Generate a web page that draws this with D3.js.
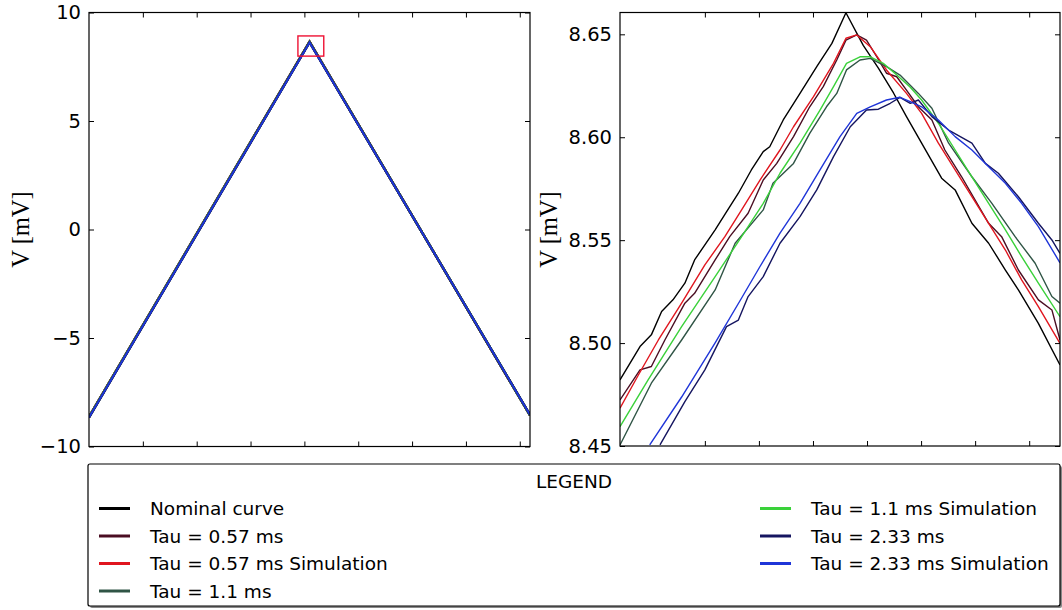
<!DOCTYPE html>
<html><head><meta charset="utf-8">
<script src="https://cdn.jsdelivr.net/npm/d3@7"></script>
<style>body{margin:0;background:#fff} svg{display:block}</style>
</head><body><svg id="chart" width="1062" height="610"></svg>
<script>
// ---------------- DATA ----------------
const seriesNames = ["Nominal curve","Tau = 0.57 ms","Tau = 0.57 ms Simulation","Tau = 1.1 ms","Tau = 1.1 ms Simulation","Tau = 2.33 ms","Tau = 2.33 ms Simulation"];
const legendTitle = "LEGEND";
const yLabel = "V [mV]";

// left (full) panel
const leftTimes = [0, 4.096, 8.19];
const leftNominal   = [-8.63, 8.66, -8.57];
const leftTau057    = [-8.64, 8.65, -8.56];
const leftTau057Sim = [-8.64, 8.65, -8.56];
const leftTau11     = [-8.65, 8.64, -8.55];
const leftTau11Sim  = [-8.65, 8.64, -8.55];
const leftTau233    = [-8.67, 8.62, -8.54];
const leftTau233Sim = [-8.67, 8.62, -8.54];
const leftXTicks = [1,2,3,4,5,6,7,8];
const leftYTicks = [-10,-5,0,5,10];
const zoomBoxX = [3.88, 4.36];
const zoomBoxY = [7.99, 8.92];

// right (zoomed) panel
const rightXTicks = [4.07,4.08,4.09,4.10,4.11,4.12,4.13];
const rightYTicks = [8.45,8.50,8.55,8.60,8.65];
const rightNominal = [[4.0543,8.4821],[4.0580,8.4983],[4.0601,8.5040],[4.0620,8.5153],[4.0641,8.5210],[4.0663,8.5291],[4.0681,8.5404],[4.0719,8.5550],[4.0740,8.5638],[4.0762,8.5728],[4.0786,8.5841],[4.0808,8.5930],[4.0820,8.5954],[4.0845,8.6084],[4.0876,8.6213],[4.0907,8.6343],[4.0935,8.6456],[4.0961,8.6605],[4.0993,8.6446],[4.1021,8.6336],[4.1049,8.6215],[4.1073,8.6100],[4.1138,8.5801],[4.1163,8.5744],[4.1194,8.5582],[4.1225,8.5485],[4.1256,8.5355],[4.1280,8.5258],[4.1317,8.5096],[4.1357,8.4894]];
const rightTau057 = [[4.0543,8.4724],[4.0580,8.4870],[4.0601,8.4886],[4.0626,8.5015],[4.0663,8.5194],[4.0681,8.5242],[4.0719,8.5404],[4.0746,8.5517],[4.0780,8.5631],[4.0808,8.5792],[4.0833,8.5873],[4.0864,8.6003],[4.0894,8.6148],[4.0919,8.6246],[4.0944,8.6375],[4.0961,8.6472],[4.0981,8.6497],[4.0999,8.6472],[4.1018,8.6391],[4.1036,8.6311],[4.1055,8.6294],[4.1073,8.6229],[4.1095,8.6148],[4.1120,8.6084],[4.1144,8.5938],[4.1175,8.5808],[4.1225,8.5582],[4.1249,8.5517],[4.1280,8.5355],[4.1317,8.5210],[4.1342,8.5161],[4.1357,8.5015]];
const rightTau057Sim = [[4.0543,8.4684],[4.0577,8.4845],[4.0614,8.5015],[4.0657,8.5194],[4.0700,8.5380],[4.0737,8.5517],[4.0768,8.5647],[4.0802,8.5792],[4.0839,8.5938],[4.0864,8.6051],[4.0901,8.6197],[4.0938,8.6359],[4.0961,8.6481],[4.0981,8.6497],[4.1006,8.6440],[4.1036,8.6327],[4.1073,8.6213],[4.1101,8.6116],[4.1132,8.5971],[4.1163,8.5841],[4.1194,8.5711],[4.1225,8.5582],[4.1256,8.5452],[4.1286,8.5307],[4.1317,8.5177],[4.1357,8.4999]];
const rightTau11 = [[4.0543,8.4505],[4.0601,8.4805],[4.0657,8.5015],[4.0719,8.5258],[4.0756,8.5485],[4.0808,8.5647],[4.0826,8.5776],[4.0864,8.5873],[4.0894,8.6019],[4.0925,8.6148],[4.0944,8.6213],[4.0962,8.6327],[4.0987,8.6375],[4.1006,8.6383],[4.1036,8.6343],[4.1061,8.6302],[4.1095,8.6213],[4.1120,8.6141],[4.1151,8.5971],[4.1194,8.5808],[4.1231,8.5679],[4.1274,8.5517],[4.1311,8.5388],[4.1342,8.5226],[4.1357,8.5194]];
const rightTau11Sim = [[4.0543,8.4594],[4.0595,8.4821],[4.0657,8.5080],[4.0719,8.5323],[4.0768,8.5517],[4.0808,8.5679],[4.0839,8.5825],[4.0876,8.5971],[4.0913,8.6132],[4.0938,8.6246],[4.0962,8.6359],[4.0987,8.6391],[4.1006,8.6391],[4.1030,8.6359],[4.1055,8.6302],[4.1080,8.6243],[4.1101,8.6181],[4.1132,8.6068],[4.1163,8.5938],[4.1194,8.5808],[4.1225,8.5679],[4.1256,8.5550],[4.1286,8.5420],[4.1317,8.5291],[4.1357,8.5128]];
const rightTau233 = [[4.0617,8.4505],[4.0663,8.4716],[4.0700,8.4870],[4.0740,8.5080],[4.0762,8.5112],[4.0780,8.5226],[4.0808,8.5323],[4.0839,8.5485],[4.0876,8.5614],[4.0907,8.5744],[4.0938,8.5906],[4.0969,8.6051],[4.0999,8.6132],[4.1021,8.6136],[4.1043,8.6165],[4.1061,8.6194],[4.1080,8.6165],[4.1095,8.6181],[4.1120,8.6100],[4.1151,8.6035],[4.1194,8.5971],[4.1219,8.5873],[4.1243,8.5825],[4.1280,8.5711],[4.1317,8.5582],[4.1342,8.5501],[4.1357,8.5436]];
const rightTau233Sim = [[4.0598,8.4505],[4.0657,8.4738],[4.0719,8.5001],[4.0768,8.5219],[4.0802,8.5372],[4.0839,8.5534],[4.0876,8.5679],[4.0913,8.5841],[4.0950,8.6003],[4.0981,8.6116],[4.1006,8.6148],[4.1036,8.6181],[4.1061,8.6194],[4.1080,8.6173],[4.1101,8.6148],[4.1132,8.6084],[4.1163,8.6003],[4.1194,8.5938],[4.1225,8.5857],[4.1256,8.5776],[4.1286,8.5679],[4.1317,8.5566],[4.1357,8.5390]];

// ---------------- STYLE / LAYOUT ----------------
const colors = ["#000000","#4a0d22","#e0161f","#2f5445","#3ad13a","#151560","#1f35d8"];
const leftSeries = [leftNominal,leftTau057,leftTau057Sim,leftTau11,leftTau11Sim,leftTau233,leftTau233Sim];
const rightSeries = [rightNominal,rightTau057,rightTau057Sim,rightTau11,rightTau11Sim,rightTau233,rightTau233Sim];

const svg = d3.select("#chart");
const tickFont = "DejaVu Sans, sans-serif";

const L = {x0:89, x1:530, y0:12.5, y1:446.5};
const R = {x0:620, x1:1060, y0:12.5, y1:446};

const lx = d3.scaleLinear().domain([0, 8.19]).range([L.x0, L.x1]);
const ly = d3.scaleLinear().domain([-10, 10]).range([L.y1, L.y0]);
const rx = d3.scaleLinear().domain([4.0543, 4.1357]).range([R.x0, R.x1]);
const ry = d3.scaleLinear().domain([8.45, 8.6606]).range([R.y1, R.y0]);

const defs = svg.append("defs");
defs.append("clipPath").attr("id","clipL").append("rect").attr("x",L.x0).attr("y",L.y0).attr("width",L.x1-L.x0).attr("height",L.y1-L.y0);
defs.append("clipPath").attr("id","clipR").append("rect").attr("x",R.x0).attr("y",R.y0).attr("width",R.x1-R.x0).attr("height",R.y1-R.y0);

function drawAxes(P, xs, ys, xt, yt, fmt) {
  const g = svg.append("g");
  const styleAxis = sel => {
    sel.select(".domain").remove();
    sel.selectAll(".tick line").attr("stroke","#000").attr("stroke-width",1);
    sel.selectAll("text").attr("font-family",tickFont).attr("font-size",19.5).attr("fill","#000");
  };
  g.append("g").attr("transform",`translate(${P.x0},0)`)
    .call(d3.axisLeft(ys).tickValues(yt).tickSizeInner(-5).tickSizeOuter(0).tickPadding(8).tickFormat(fmt)).call(styleAxis);
  g.append("g").attr("transform",`translate(${P.x1},0)`)
    .call(d3.axisRight(ys).tickValues(yt).tickSizeInner(-5).tickSizeOuter(0).tickFormat("")).call(styleAxis);
  g.append("g").attr("transform",`translate(0,${P.y1})`)
    .call(d3.axisBottom(xs).tickValues(xt).tickSizeInner(-5).tickSizeOuter(0).tickFormat("")).call(styleAxis);
  g.append("g").attr("transform",`translate(0,${P.y0})`)
    .call(d3.axisTop(xs).tickValues(xt).tickSizeInner(-5).tickSizeOuter(0).tickFormat("")).call(styleAxis);
  svg.append("rect").attr("x",P.x0).attr("y",P.y0).attr("width",P.x1-P.x0).attr("height",P.y1-P.y0)
    .attr("fill","none").attr("stroke","#000").attr("stroke-width",1.2);
}

// left panel lines
const gl = svg.append("g").attr("clip-path","url(#clipL)");
leftSeries.forEach((vals,i) => {
  const pts = leftTimes.map((t,j)=>[t, vals[j]]);
  gl.append("path").datum(pts)
    .attr("d", d3.line().x(d=>lx(d[0])).y(d=>ly(d[1])))
    .attr("fill","none").attr("stroke",colors[i]).attr("stroke-width",i===6?1.8:2.4).attr("stroke-linejoin","miter");
});
gl.append("rect").attr("x",lx(zoomBoxX[0])).attr("y",ly(zoomBoxY[1]))
  .attr("width",lx(zoomBoxX[1])-lx(zoomBoxX[0])).attr("height",ly(zoomBoxY[0])-ly(zoomBoxY[1]))
  .attr("fill","none").attr("stroke","#ee1133").attr("stroke-width",1.4);
drawAxes(L, lx, ly, leftXTicks, leftYTicks, d3.format("d"));

// right panel lines
const gr = svg.append("g").attr("clip-path","url(#clipR)");
rightSeries.forEach((pts,i) => {
  gr.append("path").datum(pts)
    .attr("d", d3.line().x(d=>rx(d[0])).y(d=>ry(d[1])))
    .attr("fill","none").attr("stroke",colors[i]).attr("stroke-width",1.4).attr("stroke-linejoin","round");
});
drawAxes(R, rx, ry, rightXTicks, rightYTicks, d3.format(".2f"));

// y labels
[[20,229.5],[548,229.5]].forEach(([x,y])=>{
  svg.append("text").attr("transform",`translate(${x},${y}) rotate(-90)`)
    .attr("text-anchor","middle").attr("dominant-baseline","central")
    .attr("font-family","Liberation Serif, serif").attr("font-size",24.5).attr("fill","#000").text(yLabel);
});

// legend
const LG = {x0:88, x1:1060, y0:464, y1:606};
svg.append("rect").attr("x",LG.x0+2).attr("y",LG.y0+2).attr("width",LG.x1-LG.x0).attr("height",LG.y1-LG.y0)
  .attr("rx",2).attr("fill","#888");
svg.append("rect").attr("x",LG.x0).attr("y",LG.y0).attr("width",LG.x1-LG.x0).attr("height",LG.y1-LG.y0)
  .attr("rx",2).attr("fill","#fff").attr("stroke","#000").attr("stroke-width",1.2);
svg.append("text").attr("x",(LG.x0+LG.x1)/2).attr("y",481).attr("text-anchor","middle").attr("dominant-baseline","central")
  .attr("font-family",tickFont).attr("font-size",18.5).attr("fill","#000").text(legendTitle);
const legendPos = [[99,508.5],[99,536],[99,563.5],[99,591],[760,508.5],[760,536],[760,563.5]];
seriesNames.forEach((name,i)=>{
  const [x,y] = legendPos[i];
  svg.append("line").attr("x1",x).attr("x2",x+31).attr("y1",y).attr("y2",y)
    .attr("stroke",colors[i]).attr("stroke-width",3);
  svg.append("text").attr("x",x+51).attr("y",y).attr("dominant-baseline","central")
    .attr("font-family",tickFont).attr("font-size",18.5).attr("fill","#000").text(name);
});
</script></body></html>
